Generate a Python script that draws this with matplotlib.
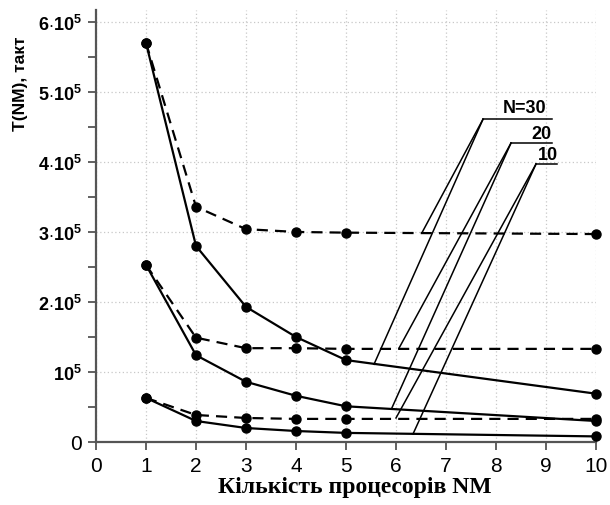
import matplotlib
matplotlib.use("Agg")
import matplotlib.pyplot as plt
from matplotlib.ticker import FixedLocator, MultipleLocator

plt.rcParams['font.family'] = ['Liberation Sans', 'DejaVu Sans']
plt.rcParams['mathtext.fontset'] = 'custom'
plt.rcParams['mathtext.rm'] = 'Liberation Sans:bold'
plt.rcParams['mathtext.bf'] = 'Liberation Sans:bold'
plt.rcParams['mathtext.it'] = 'Liberation Sans:bold'

# ---- data ----
nm = [1, 2, 3, 4, 5, 10]
t30_solid = [5.70e5, 2.80e5, 1.93e5, 1.50e5, 1.17e5, 0.69e5]
t30_dash = [5.70e5, 3.36e5, 3.04e5, 3.00e5, 2.99e5, 2.97e5]
t20_solid = [2.53e5, 1.24e5, 0.86e5, 0.66e5, 0.51e5, 0.30e5]
t20_dash = [2.53e5, 1.49e5, 1.34e5, 1.34e5, 1.33e5, 1.33e5]
t10_solid = [0.63e5, 0.30e5, 0.20e5, 0.157e5, 0.13e5, 0.08e5]
t10_dash = [0.63e5, 0.386e5, 0.343e5, 0.33e5, 0.33e5, 0.33e5]

labels = ["N=30", "20", "10"]
xticks = list(range(0, 11))
yticks = [0, 1e5, 2e5, 3e5, 4e5, 5e5, 6e5]
ytick_labels = ["0", r"$10^5$", r"$2{\cdot}10^5$", r"$3{\cdot}10^5$",
                r"$4{\cdot}10^5$", r"$5{\cdot}10^5$", r"$6{\cdot}10^5$"]

# leader lines: label shelf (x_start, x_end, y), two target points, label anchor
shelves = [(7.74, 9.12, 4.61e5), (8.30, 9.12, 4.27e5), (8.80, 9.22, 3.97e5)]
targets = [[(6.52, 2.99e5), (5.56, 1.11e5)],
           [(6.06, 1.34e5), (5.92, 0.49e5)],
           [(6.00, 0.343e5), (6.34, 0.114e5)]]
label_pos = [(9.00, 4.71e5), (9.10, 4.34e5), (9.24, 4.04e5)]

fig = plt.figure(figsize=(6.10, 5.06), dpi=100)
ax = fig.add_axes([96 / 610, 1 - 443 / 506, 500 / 610, 432 / 506])

lw = 1.6
ms = 6.5
for s, d in [(t30_solid, t30_dash), (t20_solid, t20_dash), (t10_solid, t10_dash)]:
    ax.plot(nm, d, color='black', lw=lw, ls=(0, (5, 3.2)), marker='o', ms=ms,
            clip_on=False, zorder=3)
    ax.plot(nm, s, color='black', lw=lw, ls='-', marker='o', ms=ms,
            clip_on=False, zorder=3)

for lab, (x0, x1, y), tg, (lx, ly) in zip(labels, shelves, targets, label_pos):
    ax.plot([x0, x1], [y, y], color='black', lw=1.1, clip_on=False, zorder=4)
    for (tx, ty) in tg:
        ax.plot([x0, tx], [y, ty], color='black', lw=1.1, clip_on=False, zorder=4)
    ax.text(lx, ly, lab, ha='right', va='baseline',
            fontsize=13, fontweight='bold')

ax.set_xlim(0, 10)
ax.set_ylim(0, 6.17e5)
ax.xaxis.set_major_locator(FixedLocator(xticks))
ax.yaxis.set_major_locator(FixedLocator(yticks))
ax.yaxis.set_minor_locator(MultipleLocator(0.5e5))
ax.set_xticklabels([str(v) for v in xticks])
ax.set_yticklabels(ytick_labels)
for i, t in enumerate(ax.get_yticklabels()):
    if i == 0:
        t.set_fontsize(15)
    else:
        t.set_fontsize(13)

ax.tick_params(axis='x', labelsize=15, length=6, width=1.3, color='#555555', pad=4)
ax.tick_params(axis='y', which='major', length=6, width=1.3, color='#555555', pad=4)
ax.tick_params(axis='y', which='minor', length=6, width=1.3, color='#555555')

for sp in ['top', 'right']:
    ax.spines[sp].set_visible(False)
for sp in ['left', 'bottom']:
    ax.spines[sp].set_color('#555555')
    ax.spines[sp].set_linewidth(1.6)

ax.grid(True, which='major', color='#c8c8c8', ls=(0, (1, 2)), lw=0.9)
ax.set_axisbelow(True)

ax.set_xlabel("Кількість процесорів NM", family=['Liberation Serif', 'DejaVu Serif'],
              fontsize=17, fontweight='bold', labelpad=1)
ax.xaxis.label.set_x(0.5 + 9 / 500)
fig.text(21 / 610, 1 - 84 / 506, "T(NM), такт", rotation=90, ha='center', va='center',
         fontsize=12.5, fontweight='bold')

fig.savefig("out.png", dpi=100)
